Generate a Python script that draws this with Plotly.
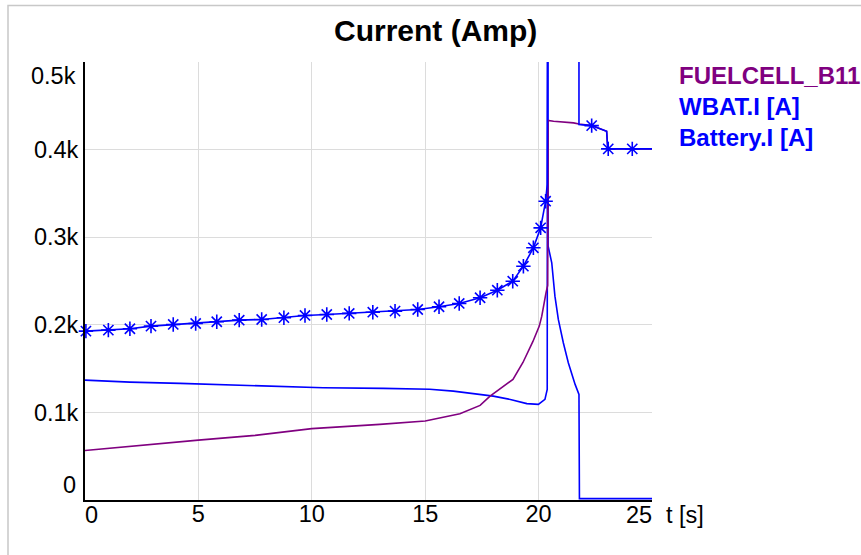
import plotly.graph_objects as go

# ---------------- data ----------------
# FUELCELL_B11 current
fc_t = [0, 2.5, 5, 7.5, 8.6, 10, 13, 15, 16.53, 17.42, 17.86, 18.87, 19.31,
        19.75, 20.03, 20.14, 20.33, 20.40, 20.42, 20.66, 21.54, 21.78, 22.34, 23.0,
        23.05, 25]
fc_v = [56.5, 62.7, 68.4, 73.8, 77.5, 81.5, 86.3, 90.1, 98.5, 108.0, 118.6,
        137.7, 157.0, 181.0, 198.5, 209.9, 236.9, 245.0, 433.4, 432.3, 430.5, 429.3,
        427.4, 421.0, 400.8, 400.8]

# WBAT.I [A]
wb_t = [0, 1.98, 4.19, 6.69, 8.6, 10.5, 13.15, 15.2, 16.24, 17.2, 18.0, 18.8, 19.48,
        19.99, 20.28, 20.38, 20.40, 20.42, 20.58, 20.72, 20.87, 21.09, 21.31, 21.61,
        21.78, 21.80, 25]
wb_v = [136.9, 134.6, 133.1, 131.2, 130.0, 128.2, 127.4, 126.4, 124.3, 121.5, 118.6,
        114.5, 110.0, 109.2, 114.9, 126.3, 900.0, 289.7, 270.8, 232.7, 206.1, 179.5,
        156.7, 132.0, 120.6, 1.6, 1.6]

# Battery.I [A] (line)
bt_t = [0.04, 1.03, 1.98, 2.91, 3.89, 4.88, 5.81, 6.80, 7.79, 8.77, 9.70, 10.66, 11.65,
        12.69, 13.67, 14.67, 15.61, 16.50, 17.42, 18.18, 18.86, 19.33, 19.77, 20.09,
        20.31, 20.38, 20.42, 21.78, 21.78, 22.34, 23.0, 23.05, 24.13, 25]
bt_v = [192.8, 193.9, 195.5, 198.5, 200.4, 201.5, 203.5, 205.3, 206.1, 208.1, 210.7,
        211.8, 213.0, 214.4, 215.6, 217.5, 220.6, 224.4, 230.9, 239.5, 249.8, 266.9,
        287.9, 310.7, 341.1, 360.0, 650.0, 650.0, 428.5, 427.4, 421.0, 400.8, 400.8,
        400.8]

# Battery.I [A] (marker samples)
bm_t = [0.04, 1.03, 1.98, 2.91, 3.89, 4.88, 5.81, 6.80, 7.79, 8.77, 9.70, 10.66, 11.65,
        12.69, 13.67, 14.67, 15.61, 16.50, 17.42, 18.18, 18.86, 19.33, 19.77, 20.09,
        20.31, 22.34, 23.07, 24.13]
bm_v = [192.8, 193.9, 195.5, 198.5, 200.4, 201.5, 203.5, 205.3, 206.1, 208.1, 210.7,
        211.8, 213.0, 214.4, 215.6, 217.5, 220.6, 224.4, 230.9, 239.5, 249.8, 266.9,
        287.9, 310.7, 341.1, 427.4, 400.8, 400.8]

x_ticks = [0, 5, 10, 15, 20, 25]
x_labels = ["0", "5", "10", "15", "20", "25"]
y_ticks = [0, 100, 200, 300, 400, 500]
y_labels = ["0", "0.1k", "0.2k", "0.3k", "0.4k", "0.5k"]

series_names = ["FUELCELL_B11", "WBAT.I [A]", "Battery.I [A]"]
PURPLE = "#800080"
BLUE = "#0000FF"
FONT = "Liberation Sans, Arial, sans-serif"
TICK_SIZE = 23.5

fig = go.Figure()
fig.add_trace(go.Scatter(x=wb_t, y=wb_v, mode="lines", name=series_names[1],
                         line=dict(color=BLUE, width=1.6)))
fig.add_trace(go.Scatter(x=fc_t, y=fc_v, mode="lines", name=series_names[0],
                         line=dict(color=PURPLE, width=1.6)))
fig.add_trace(go.Scatter(x=bt_t, y=bt_v, mode="lines", name=series_names[2],
                         line=dict(color=BLUE, width=1.6)))
fig.add_trace(go.Scatter(x=bm_t, y=bm_v, mode="markers", name=series_names[2],
                         cliponaxis=False,
                         marker=dict(symbol="asterisk-open", size=12, color=BLUE,
                                     line=dict(color=BLUE, width=1.6))))

annotations = []
annotations.append(dict(x=x_ticks[0], y=0, xref="x", yref="paper", text=x_labels[0],
                        showarrow=False, xanchor="center", yanchor="middle",
                        xshift=6, yshift=-15, font=dict(size=TICK_SIZE, color="black", family=FONT)))
annotations.append(dict(x=x_ticks[-1], y=0, xref="x", yref="paper", text=x_labels[-1],
                        showarrow=False, xanchor="center", yanchor="middle",
                        xshift=-13.5, yshift=-15, font=dict(size=TICK_SIZE, color="black", family=FONT)))
annotations.append(dict(x=1, y=0, xref="paper", yref="paper", text="t [s]",
                        showarrow=False, xanchor="left", yanchor="middle",
                        xshift=12, yshift=-15, font=dict(size=TICK_SIZE, color="black", family=FONT)))
annotations.append(dict(x=0, y=y_ticks[0], xref="paper", yref="y", text=y_labels[0],
                        showarrow=False, xanchor="right", yanchor="middle",
                        xshift=-7, yshift=15.5, font=dict(size=TICK_SIZE, color="black", family=FONT)))
annotations.append(dict(x=0, y=y_ticks[-1], xref="paper", yref="y", text=y_labels[-1],
                        showarrow=False, xanchor="right", yanchor="middle",
                        xshift=-7, yshift=-13.5, font=dict(size=TICK_SIZE, color="black", family=FONT)))
# title
annotations.append(dict(x=0.618, y=1, xref="paper", yref="paper", text="<b>Current (Amp)</b>",
                        showarrow=False, xanchor="center", yanchor="middle", yshift=32,
                        font=dict(size=30, color="black", family=FONT)))
# legend text
leg_colors = [PURPLE, BLUE, BLUE]
leg_y = [75, 106, 137]
for name, col, py in zip(series_names, leg_colors, leg_y):
    annotations.append(dict(x=1, y=1, xref="paper", yref="paper", text="<b>%s</b>" % name,
                            showarrow=False, xanchor="left", yanchor="middle",
                            xshift=25, yshift=-(py - 62),
                            font=dict(size=24, color=col, family=FONT)))

fig.update_layout(
    width=861, height=555,
    margin=dict(l=85, r=209, t=62, b=55),
    paper_bgcolor="white", plot_bgcolor="white",
    showlegend=False,
    font=dict(family=FONT, size=TICK_SIZE, color="black"),
    annotations=annotations,
    shapes=[dict(type="rect", xref="paper", yref="paper",
                 x0=-0.1358, x1=1.6, y0=-0.4, y1=1.129,
                 line=dict(color="#c8c8c8", width=1.5), fillcolor="rgba(0,0,0,0)",
                 layer="below")],
)
fig.update_xaxes(range=[0, 25], tickvals=x_ticks, ticktext=[""] + x_labels[1:-1] + [""],
                 showline=True, linecolor="black", linewidth=2, showgrid=True,
                 gridcolor="#dcdcdc", gridwidth=1, zeroline=False, ticks="",
                 ticklabelstandoff=-8,
                 tickfont=dict(size=TICK_SIZE, family=FONT, color="black"))
fig.update_yaxes(range=[0, 500], tickvals=y_ticks[:-1], ticktext=[""] + y_labels[1:-1],
                 showline=True, linecolor="black", linewidth=2, showgrid=True,
                 gridcolor="#dcdcdc", gridwidth=1, zeroline=False, ticks="",
                 tickfont=dict(size=TICK_SIZE, family=FONT, color="black"))

fig.write_html("out.html")
